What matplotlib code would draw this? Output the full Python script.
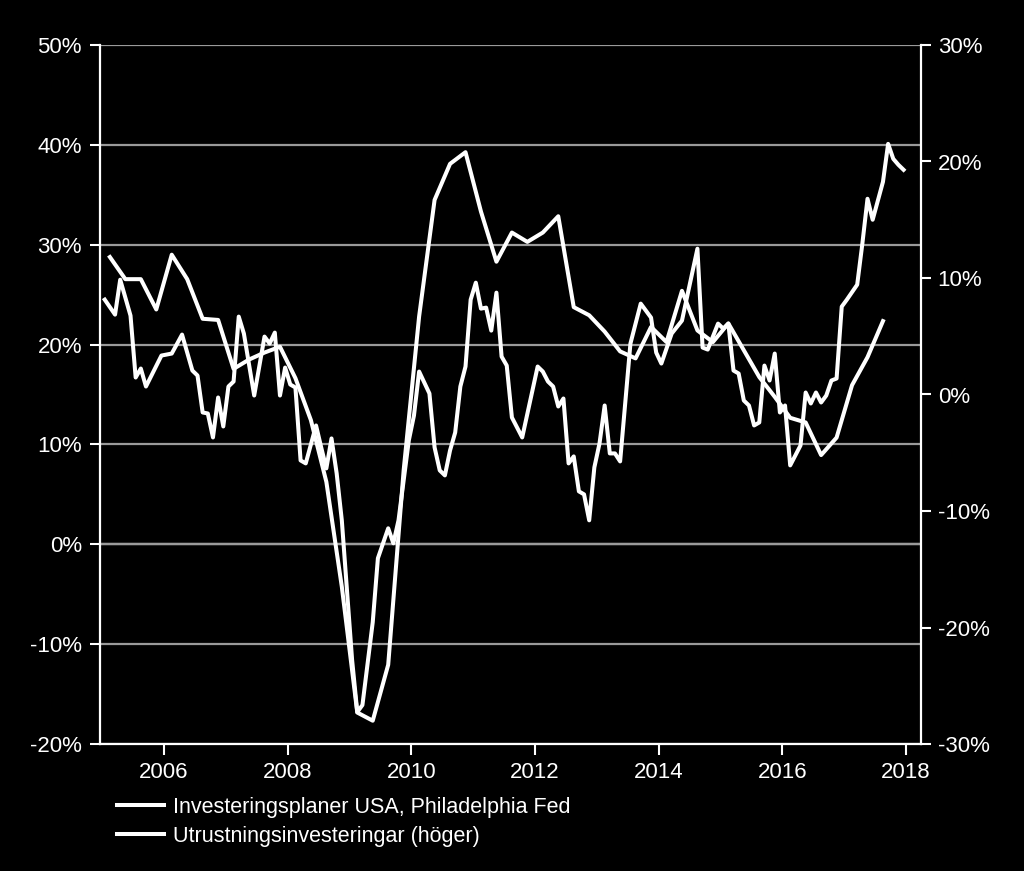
import numpy as np
import matplotlib
matplotlib.use("Agg")
import matplotlib.pyplot as plt
from matplotlib.ticker import FuncFormatter, MultipleLocator

plt.rcParams['font.family'] = ['Liberation Sans', 'DejaVu Sans']

# Investeringsplaner USA, Philadelphia Fed (left axis, monthly, %)
a_months = ['2005-01', '2005-03', '2005-04', '2005-06', '2005-07', '2005-08', '2005-09', '2005-12',
            '2006-02', '2006-04', '2006-06', '2006-07', '2006-08', '2006-09', '2006-10', '2006-11', '2006-12',
            '2007-01', '2007-02', '2007-03', '2007-04', '2007-06', '2007-08', '2007-09', '2007-10', '2007-11', '2007-12',
            '2008-01', '2008-02', '2008-03', '2008-04', '2008-06', '2008-07', '2008-08', '2008-09', '2008-10', '2008-11', '2008-12',
            '2009-01', '2009-02', '2009-03', '2009-05', '2009-06', '2009-08', '2009-09', '2009-10', '2009-12',
            '2010-01', '2010-02', '2010-04', '2010-05', '2010-06', '2010-07', '2010-08', '2010-09', '2010-10', '2010-11', '2010-12',
            '2011-01', '2011-02', '2011-03', '2011-04', '2011-05', '2011-06', '2011-07', '2011-08', '2011-10',
            '2012-01', '2012-02', '2012-03', '2012-04', '2012-05', '2012-06', '2012-07', '2012-08', '2012-09', '2012-10', '2012-11', '2012-12',
            '2013-01', '2013-02', '2013-03', '2013-04', '2013-05', '2013-07', '2013-09', '2013-11', '2013-12',
            '2014-01', '2014-03', '2014-05', '2014-08', '2014-09', '2014-10', '2014-12',
            '2015-01', '2015-02', '2015-03', '2015-04', '2015-05', '2015-06', '2015-07', '2015-08', '2015-09', '2015-10', '2015-11', '2015-12',
            '2016-01', '2016-02', '2016-04', '2016-05', '2016-06', '2016-07', '2016-08', '2016-09', '2016-10', '2016-11', '2016-12',
            '2017-01', '2017-03', '2017-04', '2017-05', '2017-06', '2017-08', '2017-09', '2017-10', '2017-11', '2017-12']
a_vals = [24.5, 23.0, 26.5, 22.9, 16.7, 17.6, 15.8, 18.9,
          19.1, 21.0, 17.4, 16.9, 13.2, 13.1, 10.7, 14.7, 11.8,
          15.8, 16.3, 22.8, 21.1, 14.9, 20.8, 20.1, 21.2, 14.9, 17.7,
          16.0, 15.7, 8.4, 8.1, 11.9, 9.7, 7.6, 10.6, 7.1, 2.4, -4.6,
          -11.6, -16.8, -16.1, -7.8, -1.4, 1.6, 0.1, 2.4, 10.4,
          12.9, 17.3, 15.1, 9.7, 7.4, 6.9, 9.4, 11.2, 15.8, 17.8, 24.5,
          26.2, 23.6, 23.7, 21.4, 25.2, 18.8, 17.9, 12.7, 10.7,
          17.8, 17.3, 16.3, 15.8, 13.8, 14.6, 8.1, 8.8, 5.3, 5.0, 2.4, 7.7,
          10.1, 13.9, 9.1, 9.1, 8.3, 20.1, 24.1, 22.7, 19.2,
          18.1, 21.1, 22.4, 29.6, 19.7, 19.5, 22.1,
          21.6, 22.1, 17.4, 17.1, 14.4, 13.9, 11.9, 12.2, 17.9, 16.4, 19.1, 13.2,
          13.9, 7.9, 9.9, 15.2, 14.1, 15.2, 14.2, 14.9, 16.4, 16.6, 23.8,
          24.5, 26.0, 30.1, 34.6, 32.5, 36.3, 40.1, 38.6, 38.0, 37.5]

# Utrustningsinvesteringar (right axis, quarterly, %)
b_start_year = 2005
b_vals = [11.8, 9.9, 9.9, 7.3,
          12.0, 9.9, 6.5, 6.4,
          2.2, 3.0, 3.6, 4.1,
          1.4, -2.2, -7.5, -16.5,
          -27.3, -28.0, -23.2, -6.5,
          6.7, 16.7, 19.8, 20.8,
          15.7, 11.4, 13.9, 13.1,
          13.9, 15.3, 7.5, 6.8,
          5.4, 3.7, 3.1, 5.8,
          4.5, 8.9, 5.5, 4.5,
          6.1, 3.8, 1.5, -0.2,
          -2.0, -2.4, -5.2, -3.7,
          0.8, 3.2, 6.3]

label_a = "Investeringsplaner USA, Philadelphia Fed"
label_b = "Utrustningsinvesteringar (höger)"

a_x = np.array([int(m[:4]) + (int(m[5:]) - 0.5) / 12 for m in a_months])
b_x = np.array([b_start_year + i // 4 + (3 * (i % 4 + 1) - 1.5) / 12 for i in range(len(b_vals))])

fs = 15.5
fig = plt.figure(figsize=(10.24, 8.71), dpi=100, facecolor='black')
ax = fig.add_axes([100 / 1024, 1 - 744 / 871, 821 / 1024, 699 / 871])
ax.set_facecolor('black')
ax2 = ax.twinx()

pct = FuncFormatter(lambda v, p: f"{v:.0f}%")

ax.set_xlim(2004.965, 2018.24)
ax.set_ylim(-20, 50)
ax.yaxis.set_major_locator(MultipleLocator(10))
ax.yaxis.set_major_formatter(pct)
ax.set_xticks(range(2006, 2019, 2))
ax.set_xticklabels([str(y) for y in range(2006, 2019, 2)])
ax.grid(axis='y', color='#9a9a9a', lw=1.6, zorder=0)
ax.axhline(0, color='white', lw=1.6, zorder=1)

ax2.set_ylim(-30, 30)
ax2.yaxis.set_major_locator(MultipleLocator(10))
ax2.yaxis.set_major_formatter(pct)

for a in (ax, ax2):
    for s in a.spines.values():
        s.set_visible(False)
ax.spines['left'].set_visible(True)
ax.spines['bottom'].set_visible(True)
ax2.spines['right'].set_visible(True)
for s in (ax.spines['left'], ax.spines['bottom'], ax2.spines['right']):
    s.set_color('white')
    s.set_linewidth(1.6)

ax.tick_params(axis='y', colors='white', labelsize=fs + 0.5, length=7, width=1.5, pad=6)
ax.tick_params(axis='x', colors='white', labelsize=fs + 0.5, length=8, width=1.5, pad=5)
ax2.tick_params(axis='y', colors='white', labelsize=fs + 0.5, length=7, width=1.5, pad=5)

l1, = ax.plot(a_x, a_vals, color='white', lw=2.9, zorder=3, label=label_a)
l2, = ax2.plot(b_x, b_vals, color='white', lw=2.9, zorder=3, label=label_b)

leg = fig.legend([l1, l2], [label_a, label_b], loc='upper left',
                 bbox_to_anchor=(117 / 1024, 1 - 797 / 871), frameon=False,
                 fontsize=fs, handlelength=2.2, handletextpad=0.4,
                 labelspacing=0.35, borderpad=0, borderaxespad=0)
for t in leg.get_texts():
    t.set_color('white')

fig.savefig('out.png', dpi=100, facecolor='black')
